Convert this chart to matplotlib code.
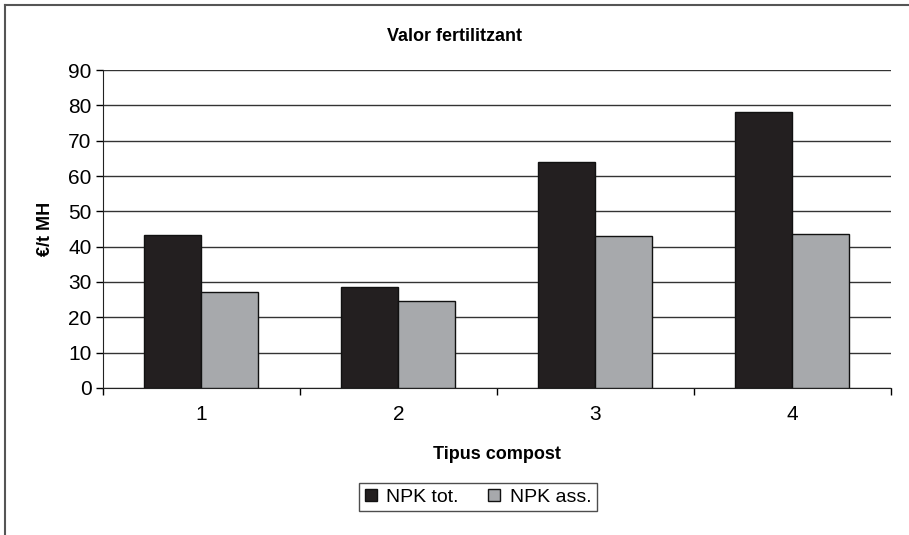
import matplotlib
matplotlib.use('Agg')
import matplotlib.pyplot as plt
from matplotlib.lines import Line2D
import numpy as np

plt.rcParams['font.family'] = ['Liberation Sans Narrow', 'Liberation Sans', 'DejaVu Sans']

categories = ['1', '2', '3', '4']
npk_tot = [43.3, 28.5, 64.0, 78.2]
npk_ass = [27.2, 24.5, 43.0, 43.5]
series_names = ['NPK tot.', 'NPK ass.']
yticks = [0, 10, 20, 30, 40, 50, 60, 70, 80, 90]

fig = plt.figure(figsize=(9.09, 5.35), dpi=100)
ax = fig.add_axes([0.113, 0.275, 0.867, 0.594])

x = np.arange(len(categories))
w = 0.29
ax.bar(x - w / 2, npk_tot, w, color='#231f20', edgecolor='#111111', linewidth=1, label=series_names[0], zorder=3)
ax.bar(x + w / 2, npk_ass, w, color='#a7a9ac', edgecolor='#111111', linewidth=1, label=series_names[1], zorder=3)

ax.set_xlim(-0.5, len(categories) - 0.5)
ax.set_ylim(0, 90)
ax.set_yticks(yticks)
ax.yaxis.grid(True, color='#333333', linewidth=1)
ax.set_axisbelow(True)

# ticks at group boundaries, labels at centres
ax.set_xticks(np.arange(len(categories) + 1) - 0.5)
ax.set_xticklabels([])
ax.set_xticks(x, minor=True)
ax.set_xticklabels(categories, minor=True)
ax.tick_params(axis='x', which='minor', length=0, pad=12, labelsize=15)
ax.tick_params(axis='x', which='major', length=5, width=1)
ax.tick_params(axis='y', length=5, width=1, labelsize=15, pad=3)

for s in ['top', 'right']:
    ax.spines[s].set_visible(False)
ax.spines['left'].set_color('#222222')
ax.spines['bottom'].set_color('#222222')

fig.text(0.5, 0.931, 'Valor fertilitzant', fontsize=13, fontweight='bold', ha='center', va='center')
ax.set_ylabel('€/t MH', fontsize=13, fontweight='bold', labelpad=10)
ax.set_xlabel('Tipus compost', fontsize=13, fontweight='bold', labelpad=16)

leg = fig.legend(loc='center', bbox_to_anchor=(0.526, 0.071), ncol=2, fontsize=14,
                 frameon=True, fancybox=False, edgecolor='#222222', handlelength=0.6,
                 handleheight=0.6, columnspacing=1.5, handletextpad=0.5, borderpad=0.3)
leg.get_frame().set_linewidth(1)

# outer frame (top and left edges visible)
fig.add_artist(Line2D([0.0055, 0.0055], [0, 0.991], transform=fig.transFigure, color='#555555', linewidth=1.5))
fig.add_artist(Line2D([0.0055, 1], [0.991, 0.991], transform=fig.transFigure, color='#555555', linewidth=1.5))

fig.savefig('out.png', dpi=100)
